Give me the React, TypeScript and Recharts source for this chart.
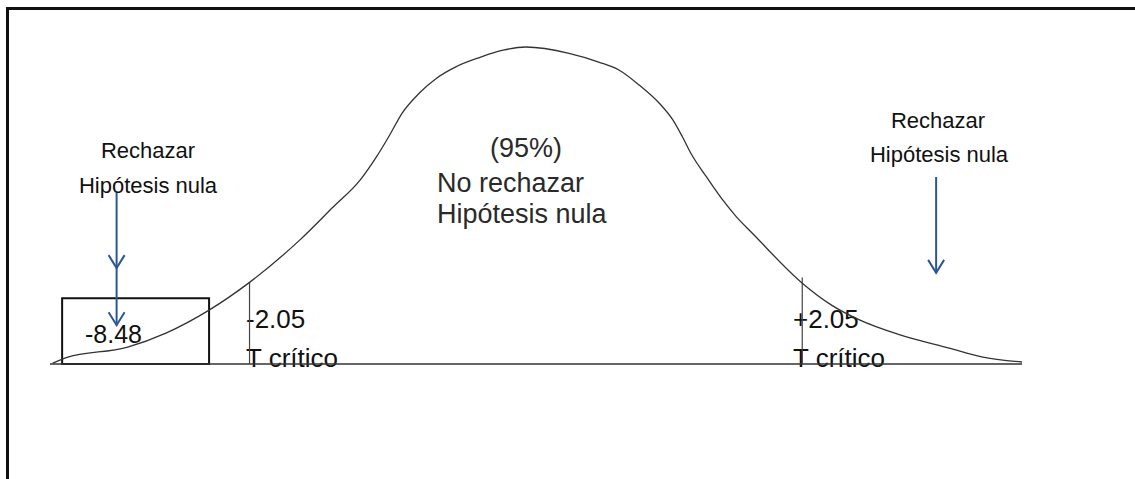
import { LineChart, Line, XAxis, YAxis, ReferenceLine, ReferenceArea, ReferenceDot } from "recharts";

// t values and curve heights
const T_VALUES = [
  -3.51, -3.41, -2.96, -2.67, -2.35, -2.05, -1.68, -1.43, -1.23, -1.11, -1.01, -0.92, -0.79, -0.66, -0.52, -0.34, -0.17, 0.0,
  0.32, 0.54, 0.69, 0.84, 0.99, 1.09, 1.16, 1.23, 1.34, 1.46, 1.56, 1.68, 2.05, 2.27, 2.47, 2.77, 3.14, 3.38, 3.68,
];
const DENSITY = [
  0.001, 0.008, 0.021, 0.039, 0.068, 0.103, 0.156, 0.198, 0.232, 0.261, 0.289, 0.316, 0.342, 0.361, 0.375, 0.387, 0.396, 0.4,
  0.392, 0.381, 0.371, 0.352, 0.329, 0.308, 0.287, 0.264, 0.236, 0.207, 0.186, 0.165, 0.102, 0.074, 0.056, 0.037, 0.02, 0.009, 0.0025,
];

const T_CRIT = 2.05;
const CRIT_TOP_LEFT = 0.103;
const CRIT_TOP_RIGHT = 0.109;
const OBSERVED = "-8.48";
const BOX_X = [-3.44, -2.35];
const BOX_TOP = 0.083;

const LEFT_ARROW = { x: -3.036, from: 0.216, heads: [0.121, 0.049] };
const RIGHT_ARROW = { x: 3.043, from: 0.236, heads: [0.115] };

const data = T_VALUES.map((t, i) => ({ t, d: DENSITY[i] }));

const FONT = "'Liberation Sans', Arial, sans-serif";
const BLUE = "#2c5796";

function Chevron(props: any) {
  const { cx, cy } = props;
  return (
    <path
      d={`M${cx - 8},${cy - 13} L${cx},${cy} L${cx + 8},${cy - 13}`}
      stroke={BLUE}
      strokeWidth={2}
      fill="none"
    />
  );
}

export default function App() {
  return (
    <div style={{ position: "absolute", left: 0, top: 0, width: 1135, height: 479, background: "#fff" }}>
      <div
        style={{
          position: "absolute",
          left: 6,
          top: 7,
          width: 1129,
          height: 472,
          boxSizing: "border-box",
          borderLeft: "3px solid #111",
          borderTop: "3px solid #111",
        }}
      />
      <LineChart
        width={1135}
        height={479}
        data={data}
        margin={{ top: 47, right: 113, bottom: 115, left: 50 }}
        style={{ position: "absolute", left: 0, top: 0 }}
      >
        <XAxis type="number" dataKey="t" domain={[-3.53, 3.68]} allowDataOverflow hide />
        <YAxis type="number" domain={[0, 0.4]} hide />
        <ReferenceLine y={0} stroke="#333" strokeWidth={1.6} />
        <ReferenceArea x1={BOX_X[0]} x2={BOX_X[1]} y1={0} y2={BOX_TOP} fill="none" stroke="#111" strokeWidth={2} fillOpacity={0} />
        <ReferenceLine segment={[{ x: -T_CRIT, y: 0 }, { x: -T_CRIT, y: CRIT_TOP_LEFT }]} stroke="#444" strokeWidth={1.2} />
        <ReferenceLine segment={[{ x: T_CRIT, y: 0 }, { x: T_CRIT, y: CRIT_TOP_RIGHT }]} stroke="#444" strokeWidth={1.2} />
        <Line type="monotone" dataKey="d" stroke="#333" strokeWidth={1.3} dot={false} isAnimationActive={false} />
        <ReferenceLine
          segment={[{ x: LEFT_ARROW.x, y: LEFT_ARROW.from }, { x: LEFT_ARROW.x, y: LEFT_ARROW.heads[1] }]}
          stroke={BLUE}
          strokeWidth={2}
        />
        {LEFT_ARROW.heads.map((h) => (
          <ReferenceDot key={`l${h}`} x={LEFT_ARROW.x} y={h} shape={Chevron} />
        ))}
        <ReferenceLine
          segment={[{ x: RIGHT_ARROW.x, y: RIGHT_ARROW.from }, { x: RIGHT_ARROW.x, y: RIGHT_ARROW.heads[0] }]}
          stroke={BLUE}
          strokeWidth={2}
        />
        {RIGHT_ARROW.heads.map((h) => (
          <ReferenceDot key={`r${h}`} x={RIGHT_ARROW.x} y={h} shape={Chevron} />
        ))}
        <g fontFamily={FONT}>
          <text x={148} y={158} fontSize={22} fill="#111" textAnchor="middle">Rechazar</text>
          <text x={148} y={193} fontSize={22} fill="#111" textAnchor="middle">Hipótesis nula</text>
          <text x={938} y={128} fontSize={22} fill="#111" textAnchor="middle">Rechazar</text>
          <text x={939} y={162} fontSize={22} fill="#111" textAnchor="middle">Hipótesis nula</text>
          <text x={490} y={157} fontSize={27} fill="#2a2a2a">(95%)</text>
          <text x={437} y={192} fontSize={27} fill="#2a2a2a">No rechazar</text>
          <text x={437} y={223} fontSize={27} fill="#2a2a2a">Hipótesis nula</text>
          <text x={85} y={343} fontSize={25} fill="#111">{OBSERVED}</text>
          <text x={246} y={328} fontSize={26} fill="#111">-2.05</text>
          <text x={246} y={367} fontSize={26} fill="#111">T crítico</text>
          <text x={793} y={328} fontSize={26} fill="#111">+2.05</text>
          <text x={793} y={367} fontSize={26} fill="#111">T crítico</text>
        </g>
      </LineChart>
    </div>
  );
}
